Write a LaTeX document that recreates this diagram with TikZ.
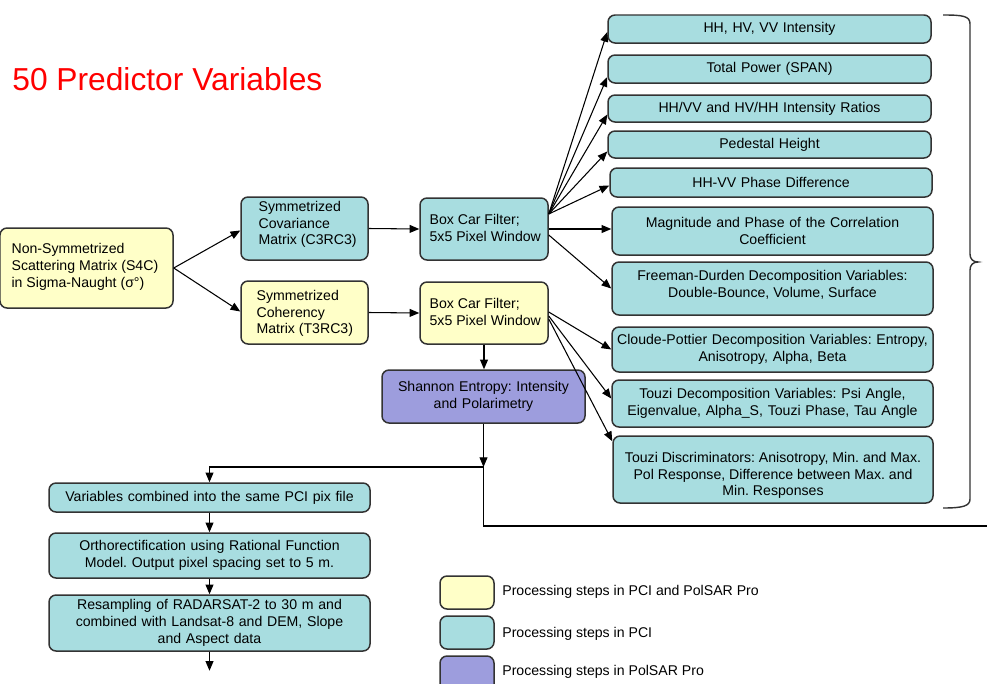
\documentclass[tikz,border=0pt]{standalone}
\usepackage{fontspec}
\setmainfont{Liberation Sans}
\usetikzlibrary{arrows.meta,calc}
\definecolor{yel}{HTML}{FFFFC8}
\definecolor{cyn}{HTML}{A8DDE0}
\definecolor{pur}{HTML}{9D9DDD}
\definecolor{bord}{HTML}{333333}
\newcommand\mkbox[8]{%
  \pgfmathsetlengthmacro\bw{(#5-#3)*0.567pt}%
  \pgfmathsetlengthmacro\bh{(#6-#4)*0.567pt}%
  \pgfmathsetlengthmacro\tw{(#5-#3-2*#7)*0.567pt}%
  \node[#1, minimum width=\bw, minimum height=\bh, text width=\tw] (#2) at ({(#3+#5)/2},{(#4+#6)/2}) {#8};}
\newcommand\mkleft[9]{%
  \pgfmathsetlengthmacro\bw{(#5-#3)*0.567pt}%
  \pgfmathsetlengthmacro\bh{(#6-#4)*0.567pt}%
  \node[#1, minimum width=\bw, minimum height=\bh] (#2) at ({(#3+#5)/2},{(#4+#6)/2}) {};
  \node[lefttxt] (#2t) at ($(#2.west)+(#7,#8)$) {#9};}
\newcommand\mkcen[8]{%
  \pgfmathsetlengthmacro\bw{(#5-#3)*0.567pt}%
  \pgfmathsetlengthmacro\bh{(#6-#4)*0.567pt}%
  \node[#1, minimum width=\bw, minimum height=\bh] (#2) at ({(#3+#5)/2},{(#4+#6)/2}) {};
  \node[centxt] (#2t) at ($(#2.center)+(0,#7)$) {#8};}
\tikzset{
  base/.style={draw=bord, line width=0.85pt, rounded corners=4pt, inner sep=0pt,
    font=\fontsize{8}{9.5}\selectfont\frenchspacing, align=center},
  yelbox/.style={base, fill=yel},
  cynbox/.style={base, fill=cyn},
  purbox/.style={base, fill=pur},
  lefttxt/.style={anchor=west, inner sep=0pt, align=left, font=\fontsize{8}{9.5}\selectfont\frenchspacing},
  centxt/.style={inner sep=0pt, align=center, font=\fontsize{8}{9.5}\selectfont\frenchspacing},
  arr/.style={-{Triangle[length=5.5pt,width=4.5pt]}, line width=0.6pt, draw=black},
  ln/.style={line width=0.6pt, draw=black},
  legtxt/.style={anchor=west, inner sep=0pt, font=\fontsize{8}{9.5}\selectfont},
}
\begin{document}
\begin{tikzpicture}[x=0.567pt,y=-0.567pt]
\clip (0,0) rectangle (987,684);
\fill[white] (0,0) rectangle (987,684);

\node[anchor=base west, font=\fontsize{18}{20}\selectfont, text=red, inner sep=0pt] (title) at (12,90) {50 Predictor Variables};

% left chain
\mkleft{yelbox}{ns}{0}{228}{173}{308}{12}{-1}{Non-Symmetrized\\Scattering Matrix (S4C)\\in Sigma-Naught (σ°)}
\mkleft{cynbox}{cov}{241}{197}{368}{260}{18}{-4}{Symmetrized\\Covariance\\Matrix (C3RC3)}
\mkleft{yelbox}{coh}{241}{281}{368}{344}{16}{1}{Symmetrized\\Coherency\\Matrix (T3RC3)}
\mkleft{cynbox}{bca}{420}{198}{548}{260}{10}{-1}{Box Car Filter;\\5x5 Pixel Window}
\mkleft{yelbox}{bcb}{420}{282}{548}{344}{10}{-1}{Box Car Filter;\\5x5 Pixel Window}
\mkbox{purbox}{sh}{382}{370}{585}{423}{6}{Shannon Entropy: Intensity\\and Polarimetry}

% right column
\mkbox{cynbox}{ba}{608}{15}{931}{43}{4}{HH, HV, VV Intensity}
\mkbox{cynbox}{bb}{608}{55}{931}{83}{4}{Total Power (SPAN)}
\mkbox{cynbox}{bc}{608}{95}{931}{122}{4}{HH/VV and HV/HH Intensity Ratios}
\mkbox{cynbox}{bd}{608}{131}{931}{158}{4}{Pedestal Height}
\mkbox{cynbox}{be}{610}{168}{932}{197}{4}{HH-VV Phase Difference}
\mkbox{cynbox}{bf}{612}{207}{933}{255}{4}{Magnitude and Phase of the Correlation\\Coefficient}
\mkcen{cynbox}{bg}{612}{262}{933}{315}{-4}{Freeman-Durden Decomposition Variables:\\Double-Bounce, Volume, Surface}
\mkbox{cynbox}{bh}{612}{327}{933}{372}{2}{Cloude-Pottier Decomposition Variables: Entropy,\\Anisotropy, Alpha, Beta}
\mkbox{cynbox}{bi}{612}{380}{933}{427}{2}{Touzi Decomposition Variables: Psi Angle,\\Eigenvalue, Alpha\_S, Touzi Phase, Tau Angle}
\mkcen{cynbox}{bj}{613}{436}{933}{503}{6}{Touzi Discriminators: Anisotropy, Min. and Max.\\Pol Response, Difference between Max. and\\Min. Responses}

% bottom chain
\mkbox{cynbox}{vars}{49}{483}{370}{512}{4}{Variables combined into the same PCI pix file}
\mkbox{cynbox}{orth}{49}{533}{370}{578}{4}{Orthorectification using Rational Function\\Model. Output pixel spacing set to 5 m.}
\mkbox{cynbox}{res}{49}{595}{370}{651}{4}{Resampling of RADARSAT-2 to 30 m and\\combined with Landsat-8 and DEM, Slope\\and Aspect data}
\coordinate (resend) at ($(res.south)+(0,19)$);

% legend
\mkbox{yelbox}{lga}{440}{576}{494}{609}{2}{}
\mkbox{cynbox}{lgb}{440}{616}{494}{649}{2}{}
\mkbox{purbox}{lgc}{440}{656}{494}{692}{2}{}
\node[legtxt] (lta) at (502,592) {Processing steps in PCI and PolSAR Pro};
\node[legtxt] (ltb) at (502,634) {Processing steps in PCI};
\node[legtxt] (ltc) at (502,672) {Processing steps in PolSAR Pro};

% connectors left
\draw[arr] (ns.east) -- ($(cov.west)+(0,2)$);
\draw[arr] (ns.east) -- ($(coh.west)+(0,-1)$);
\draw[arr] (cov.east) -- (bca.west);
\draw[arr] (coh.east) -- (bcb.west);
\draw[arr] (bcb.south) -- (bcb.south |- sh.north);

% fan from box car 1
\coordinate (fa) at ($(bca.east)+(0,-15)$);
\draw[arr] (fa) -- ($(ba.west)+(0,3)$);
\draw[arr] (fa) -- ($(bb.west)+(0,8)$);
\draw[arr] (fa) -- ($(bc.west)+(0,6)$);
\draw[arr] (fa) -- ($(bd.west)+(0,7)$);
\draw[arr] (fa) -- ($(be.west)+(0,3)$);
\draw[arr] (bca.east) -- (bca.east -| bf.west);
\draw[arr] ($(bca.east)+(0,6)$) -- (bg.west);

% fan from box car 2
\draw[arr] ($(bcb.east)+(0,-1)$) -- (bh.west);
\draw[arr] ($(bcb.east)+(0,3)$) -- ($(bi.west)+(0,-5)$);
\draw[arr] ($(bcb.east)+(0,6)$) -- ($(bj.north west)+(0,6)$);

% Shannon and merge
\coordinate (jn) at (sh.south |- 0,467);
\coordinate (bend) at (sh.south |- 0,526);
\coordinate (redge) at (987,526);
\draw[arr] (sh.south) -- (jn);
\draw[arr] (jn) -| (vars.north);
\draw[ln] (jn) -- (bend) -- (redge);

% bottom chain connectors
\draw[arr] (vars.south) -- (orth.north);
\draw[arr] (orth.south) -- (res.north);
\draw[arr] (res.south) -- (resend);

% brace
\draw[line width=0.8pt, bord] (943,15) .. controls (963,15) and (970,16) .. (970,24)
  -- (970,254) .. controls (970,259) and (973,262) .. (978,262)
  .. controls (973,262) and (970,265) .. (970,270)
  -- (970,499) .. controls (970,506) and (963,508) .. (943,508);
\end{tikzpicture}
\end{document}
